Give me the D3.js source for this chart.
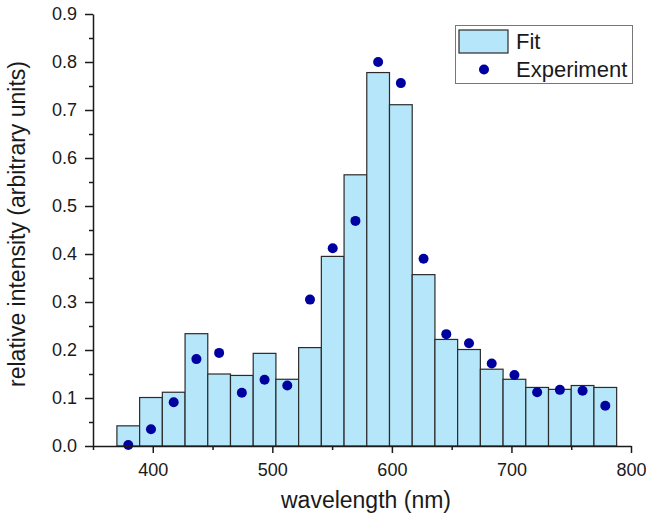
<!DOCTYPE html>
<html>
<head>
<meta charset="utf-8">
<script src="https://cdn.jsdelivr.net/npm/d3@7"></script>
<style>
  body { margin: 0; background: #fff; }
  svg { font-family: Arial, "Liberation Sans", sans-serif; }
</style>
</head>
<body>
<svg id="chart"></svg>
<script>
// bin left edges (nm), bin width 19 nm
var binStarts = [370, 389, 408, 427, 446, 465, 484, 503, 522, 541, 560,
  579, 598, 617, 636, 655, 674, 693, 712, 731, 750, 769];
var binWidth = 19;

var fitValues = [0.042, 0.101, 0.112, 0.234, 0.150, 0.147, 0.193, 0.139, 0.205, 0.395, 0.565,
  0.778, 0.711, 0.357, 0.222, 0.201, 0.160, 0.139, 0.122, 0.118, 0.126, 0.122];

var expValues = [0.002, 0.035, 0.091, 0.181, 0.194, 0.111, 0.138, 0.126, 0.305, 0.412, 0.469,
  0.800, 0.756, 0.390, 0.233, 0.214, 0.172, 0.148, 0.112, 0.117, 0.115, 0.084];

var xTicks = [400, 500, 600, 700, 800];
var yTicks = [0.0, 0.1, 0.2, 0.3, 0.4, 0.5, 0.6, 0.7, 0.8, 0.9];

var width = 646,
  height = 515,
  margin = {top: 14, right: 15, bottom: 69, left: 93};

var svg = d3.select("#chart")
  .attr("width", width)
  .attr("height", height);

var x = d3.scaleLinear()
  .domain([350, 800])
  .range([margin.left, width - margin.right]);

var y = d3.scaleLinear()
  .domain([0, 0.9])
  .range([height - margin.bottom, margin.top]);

var barFill = "#b6e6fa",
  dotColor = "#0000a0",
  ink = "#1a1a1a";

// bars
svg.append("g")
  .selectAll("rect")
  .data(fitValues)
  .enter().append("rect")
  .attr("x", function (d, i) { return x(binStarts[i]); })
  .attr("width", function (d, i) { return x(binStarts[i] + binWidth) - x(binStarts[i]); })
  .attr("y", function (d) { return y(d); })
  .attr("height", function (d) { return y(0) - y(d); })
  .attr("fill", barFill)
  .attr("stroke", "#2b2b2b")
  .attr("stroke-width", 1.2);

// experiment dots
svg.append("g")
  .selectAll("circle")
  .data(expValues)
  .enter().append("circle")
  .attr("cx", function (d, i) { return x(binStarts[i] + binWidth / 2); })
  .attr("cy", function (d) { return y(d); })
  .attr("r", 5)
  .attr("fill", dotColor);

// axes: minor ticks first, then major ticks with labels
var xMinor = d3.range(350, 801, 50).filter(function (v) { return xTicks.indexOf(v) < 0; });
var yMinor = d3.range(0.05, 0.9, 0.1);

svg.append("g")
  .attr("transform", "translate(0," + y(0) + ")")
  .call(d3.axisBottom(x).tickValues(xMinor).tickSize(4).tickFormat(""))
  .call(function (g) { g.select(".domain").remove(); });

svg.append("g")
  .attr("transform", "translate(" + x(350) + ",0)")
  .call(d3.axisLeft(y).tickValues(yMinor).tickSize(4).tickFormat(""))
  .call(function (g) { g.select(".domain").remove(); });

var xAxis = svg.append("g")
  .attr("transform", "translate(0," + y(0) + ")")
  .call(d3.axisBottom(x).tickValues(xTicks).tickSize(7).tickSizeOuter(0).tickPadding(10));

var yAxis = svg.append("g")
  .attr("transform", "translate(" + x(350) + ",0)")
  .call(d3.axisLeft(y).tickValues(yTicks).tickSize(8).tickSizeOuter(0)
    .tickPadding(8).tickFormat(d3.format(".1f")));

[xAxis, yAxis].forEach(function (g) {
  g.selectAll("path").attr("stroke", ink).attr("stroke-width", 1.5);
  g.selectAll("text").attr("font-size", 18).attr("fill", ink)
    .style("font-family", "Arial, 'Liberation Sans', sans-serif");
});
svg.selectAll("g line").attr("stroke", ink).attr("stroke-width", 1.5);

// axis titles
svg.append("text")
  .attr("x", 366)
  .attr("y", 508)
  .attr("text-anchor", "middle")
  .attr("font-size", 23)
  .attr("fill", ink)
  .text("wavelength (nm)");

svg.append("text")
  .attr("transform", "translate(25,224) rotate(-90)")
  .attr("text-anchor", "middle")
  .attr("font-size", 23)
  .attr("fill", ink)
  .text("relative intensity (arbitrary units)");

// legend
var legend = svg.append("g");
legend.append("rect")
  .attr("x", 455.5).attr("y", 25.5)
  .attr("width", 177).attr("height", 58)
  .attr("fill", "#fff")
  .attr("stroke", "#777")
  .attr("stroke-width", 1);
legend.append("rect")
  .attr("x", 459).attr("y", 30)
  .attr("width", 49).attr("height", 23)
  .attr("fill", barFill)
  .attr("stroke", "#2b2b2b")
  .attr("stroke-width", 1.2);
legend.append("circle")
  .attr("cx", 484).attr("cy", 69.5).attr("r", 5)
  .attr("fill", dotColor);
legend.append("text")
  .attr("x", 516).attr("y", 49)
  .attr("font-size", 22).attr("fill", ink)
  .text("Fit");
legend.append("text")
  .attr("x", 516).attr("y", 77)
  .attr("font-size", 22).attr("fill", ink)
  .text("Experiment");
</script>
</body>
</html>
